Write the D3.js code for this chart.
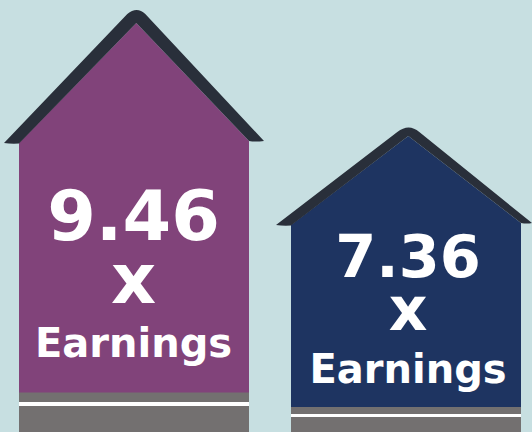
<!DOCTYPE html>
<html><head><meta charset="utf-8">
<script src="https://cdn.jsdelivr.net/npm/d3@7"></script>
<style>html,body{margin:0;padding:0;background:#c7dfe1;overflow:hidden}svg{display:block}text{font-family:"DejaVu Sans";font-weight:700;fill:#fff;text-anchor:middle}</style>
</head><body><svg id="c" width="532" height="432"></svg>
<script>
const categories = ["House A", "House B"];
const multiples = [9.46, 7.36];
const multiplierLabel = "x";
const earningsLabel = "Earnings";
const bodyColors = ["#81437a", "#1e3461"];

const W = 532, H = 432;
const svg = d3.select("#c");
svg.append("rect").attr("width", W).attr("height", H).attr("fill", "#c7dfe1");

const x = d3.scaleBand().domain(categories).range([19, 521]).paddingInner(42 / 272);
const y = d3.scaleLinear().domain([0, 10]).range([532, -6]);

// per-house layout (not data)
const layout = [
  {eaveL: 143, eaveR: 141, base: 392.5, grayTop: 402, grayBot: 406, big: 70, bigY: 240, xS: 70, xY: 303, eS: 40, eY: 357},
  {eaveL: 225, eaveR: 223, base: 407, grayTop: 414, grayBot: 417, big: 59, bigY: 277, xS: 60, xY: 330, eS: 40, eY: 383}
];

categories.forEach((c, i) => {
  const L = layout[i], x0 = x(c), w = x.bandwidth(), x1 = x0 + w;
  const cx = x0 + w * 0.51, ay = y(multiples[i]);
  const g = svg.append("g");
  g.append("rect").attr("x", x0).attr("y", L.base - 1).attr("width", w).attr("height", H - L.base + 1).attr("fill", "#737070");
  g.append("rect").attr("x", x0).attr("y", L.grayTop).attr("width", w).attr("height", L.grayBot - L.grayTop).attr("fill", "#fff");
  g.append("path").attr("fill", bodyColors[i])
    .attr("d", `M${x0},${L.eaveL}L${cx},${ay}L${x1},${L.eaveR}L${x1},${L.base}L${x0},${L.base}Z`);
  // roof band
  const r = i === 0 ? {sh: 9, shy: 9, top: 13} : {sh: 11, shy: 4, top: 9};
  const tipL = x0 - 15, tipR = i === 0 ? x1 + 15 : W;
  g.append("path").attr("fill", "#292f3a")
    .attr("d", `M${tipL},${L.eaveL}L${cx - r.sh},${ay - r.shy}Q${cx + 0.5},${ay - r.top - 4} ${cx + r.sh},${ay - r.shy}` +
      `L${tipR},${L.eaveR}Q${x1 + 6},${L.eaveR + 1} ${x1},${L.eaveR}L${cx},${ay}L${x0},${L.eaveL + 0.5}Q${x0 - 8},${L.eaveL + 1} ${tipL},${L.eaveL}Z`);
  const tx = i === 0 ? 133.5 : 408;
  g.append("text").attr("x", tx).attr("y", L.bigY).attr("font-size", L.big).text(multiples[i].toFixed(2));
  g.append("text").attr("x", tx).attr("y", L.xY).attr("font-size", L.xS).text(multiplierLabel);
  g.append("text").attr("x", tx).attr("y", L.eY).attr("font-size", L.eS).text(earningsLabel);
});
</script></body></html>
